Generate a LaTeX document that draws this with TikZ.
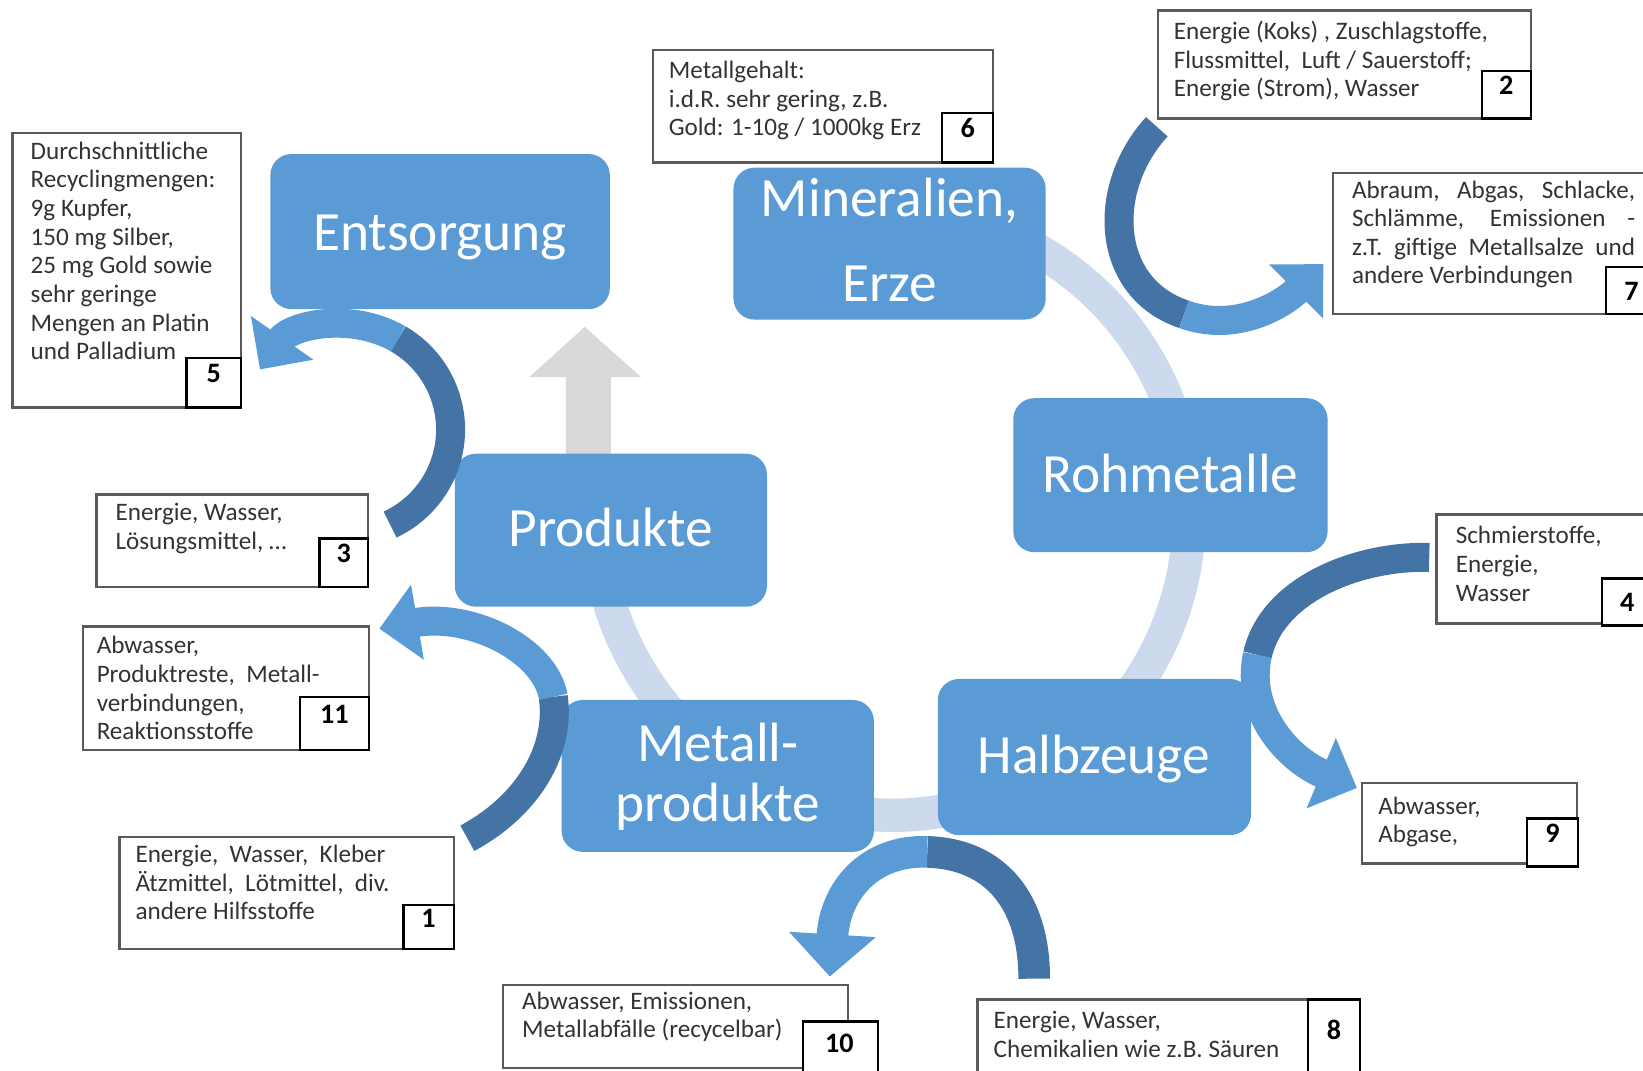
\documentclass[tikz,border=0pt]{standalone}
\usepackage{fontspec}
\setmainfont{Carlito}
\usetikzlibrary{fit,arrows.meta}
\definecolor{mainblue}{HTML}{5B9BD5}
\definecolor{ringblue}{HTML}{CDDAEE}
\definecolor{arrdark}{HTML}{4473A6}
\definecolor{arrlight}{HTML}{5B9BD5}
\definecolor{boxline}{HTML}{5A5A5A}
\definecolor{txtgray}{HTML}{333333}
\definecolor{arrgray}{HTML}{D9D9D9}
\begin{document}
\begin{tikzpicture}[x=0.020957cm,y=-0.020957cm,
  mainbox/.style={fill=mainblue, rounded corners=12pt, inner sep=0pt},
  maintxt/.style={anchor=base, inner sep=0pt, text=white, font=\fontsize{31.5}{38}\selectfont},
  tbox/.style={draw=boxline, line width=1.3pt, fill=white, inner sep=0pt},
  nbox/.style={draw=black, line width=1.3pt, fill=white, inner sep=0pt, font=\fontsize{16}{18}\selectfont\bfseries},
  numtxt/.style={inner sep=0pt, font=\fontsize{16}{18}\selectfont\bfseries},
  txt/.style={anchor=north west, inner sep=0pt, align=left, text=txtgray, font=\fontsize{14.3}{16.3}\selectfont},
  ring/.style={draw=ringblue, line width=19pt},
  blkdark/.style={draw=arrdark, line width=16.5pt, line cap=butt},
  blklight/.style={draw=arrlight, line width=16.5pt, line cap=butt},
  head/.style={-{Triangle[width=42pt,length=22pt]}},
  bighead/.style={-{Triangle[width=48pt,length=24pt]}}
]
\useasboundingbox (0,0) rectangle (1568,1022);

% ring of the cycle
\draw[ring] (852,490) ++(-62:283 and 288) arc[start angle=-62, end angle=185, x radius=283, y radius=288];

% gray arrow Produkte -> Entsorgung
\fill[arrgray] (540,434) -- (540,360) -- (505,360) -- (558,312) -- (612,360) -- (583,360) -- (583,434) -- cycle;

% main nodes
\node[mainbox, fit={(258,147)(582,295)}] (ent) {};
\node[maintxt] (entT) at (420,239) {Entsorgung};
\node[mainbox, fit={(700,160)(998,305)}] (min) {};
\node[maintxt] (minT1) at (849,207) {Mineralien,};
\node[maintxt] (minT2) at (849,288) {Erze};
\node[mainbox, fit={(967,380)(1267,527)}] (roh) {};
\node[maintxt] (rohT) at (1117,470) {Rohmetalle};
\node[mainbox, fit={(895,648)(1194,797)}] (hal) {};
\node[maintxt] (halT) at (1044,738) {Halbzeuge};
\node[mainbox, fit={(536,668)(834,813)}] (met) {};
\node[maintxt] (metT1) at (685,727) {Metall-};
\node[maintxt] (metT2) at (685,784) {produkte};
\node[mainbox, fit={(434,433)(732,579)}] (pro) {};
\node[maintxt] (proT) at (583,522) {Produkte};

% curved block arrows
% 2 -> 7
\coordinate (a2s) at (1104,121);
\coordinate (a2m) at (1130,300);
\coordinate (a2e) at (1263,252);
\draw[blkdark] (a2s) .. controls (1050,180) and (1055,275) .. (a2m);
\draw[blklight, head] (a2m) .. controls (1180,318) and (1225,290) .. (a2e);
% 4 -> 9
\coordinate (a4s) at (1364,532);
\coordinate (a4m) at (1200,625);
\coordinate (a4e) at (1295,752);
\draw[blkdark] (a4s) .. controls (1300,530) and (1215,560) .. (a4m);
\draw[blklight, head] (a4m) .. controls (1188,680) and (1230,725) .. (a4e);
% 8 -> 10
\coordinate (a8s) at (987,934);
\coordinate (a8m) at (885,813);
\coordinate (a8e) at (792,932);
\draw[blkdark, line width=18pt] (a8s) .. controls (987,860) and (950,815) .. (a8m);
\draw[blklight, line width=18pt, bighead] (a8m) .. controls (830,811) and (797,850) .. (a8e);
% 1 -> 11
\coordinate (a1s) at (446,800);
\coordinate (a1m) at (528,665);
\coordinate (a1e) at (362,600);
\draw[blkdark] (a1s) .. controls (505,768) and (535,715) .. (a1m);
\draw[blklight, head] (a1m) .. controls (520,620) and (450,585) .. (a1e);
% 3 -> 5
\draw[blkdark] (330,410) ++(65:100) coordinate (a3s) arc[start angle=65, end angle=-60, radius=100] coordinate (a3m);
\draw[blklight, head] (a3m) arc[start angle=-60, end angle=-145, radius=100] coordinate (a3e);

% text boxes
\node[tbox, fit={(12,127)(230,389)}] (b5) {};
\node[txt] (t5) at (29,135) {Durchschnittliche\\Recyclingmengen:\\9g Kupfer,\\150 mg Silber,\\25 mg Gold sowie\\sehr geringe\\Mengen an Platin\\und Palladium};
\node[nbox, fit={(178,342)(230,389)}] (n5) {5};

\node[tbox, fit={(623,48)(948,155)}] (b6) {};
\node[txt] (t6) at (638,58) {Metallgehalt:\\i.d.R. sehr gering, z.B.\\Gold: 1-10g / 1000kg Erz};
\node[nbox, fit={(899,108)(948,155)}] (n6) {6};

\node[tbox, fit={(1105,10)(1461,113)}] (b2) {};
\node[txt] (t2) at (1120,20) {Energie (Koks) , Zuschlagstoffe,\\Flussmittel,\ \ Luft / Sauerstoff;\\Energie (Strom), Wasser};
\node[nbox, fit={(1414,68)(1461,113)}] (n2) {2};

\node[tbox, fit={(1272,165)(1590,300)}] (b7) {};
\node[txt] (t7) at (1290,172) {\makebox[161pt][s]{Abraum, Abgas, Schlacke,}\\\makebox[161pt][s]{Schlämme, Emissionen -}\\\makebox[161pt][s]{z.T. giftige Metallsalze und}\\andere Verbindungen};
\node[nbox, fit={(1533,255)(1590,300)}] (n7) {};
\node[numtxt] at (1557,278) {7};

\node[tbox, fit={(1371,491)(1590,595)}] (b4) {};
\node[txt] (t4) at (1389,502) {Schmierstoffe,\\Energie,\\Wasser};
\node[nbox, fit={(1529,552)(1590,597)}] (n4) {};
\node[numtxt] at (1553,575) {4};

\node[tbox, fit={(1300,747)(1505,824)}] (b9) {};
\node[txt] (t9) at (1315,760) {Abwasser,\\Abgase,};
\node[nbox, fit={(1457,781)(1506,827)}] (n9) {9};

\node[tbox, fit={(92,472)(351,560)}] (b3) {};
\node[txt] (t3) at (110,480) {Energie, Wasser,\\Lösungsmittel, …};
\node[nbox, fit={(305,514)(351,560)}] (n3) {3};

\node[tbox, fit={(79,598)(352,716)}] (b11) {};
\node[txt] (t11) at (92,607) {Abwasser,\\Produktreste,\ \ Metall-\\verbindungen,\\Reaktionsstoffe};
\node[nbox, fit={(286,665)(352,716)}] (n11) {11};

\node[tbox, fit={(114,799)(433,906)}] (b1) {};
\node[txt] (t1) at (129,806) {Energie,\ \ Wasser,\ \ Kleber\\Ätzmittel,\ \ Lötmittel,\ \ div.\\andere Hilfsstoffe};
\node[nbox, fit={(385,864)(433,906)}] (n1) {1};

\node[tbox, fit={(480,940)(809,1019)}] (b10) {};
\node[txt] (t10) at (498,946) {Abwasser, Emissionen,\\Metallabfälle (recycelbar)};
\node[nbox, fit={(766,975)(838,1032)}] (n10) {};
\node[numtxt] at (801,996) {10};

\node[tbox, fit={(933,954)(1298,1032)}] (b8) {};
\node[txt] (t8) at (948,965) {Energie, Wasser,\\Chemikalien wie z.B. Säuren};
\node[nbox, fit={(1248,954)(1298,1032)}] (n8) {};
\node[numtxt] at (1273,983) {8};
\end{tikzpicture}
\end{document}
